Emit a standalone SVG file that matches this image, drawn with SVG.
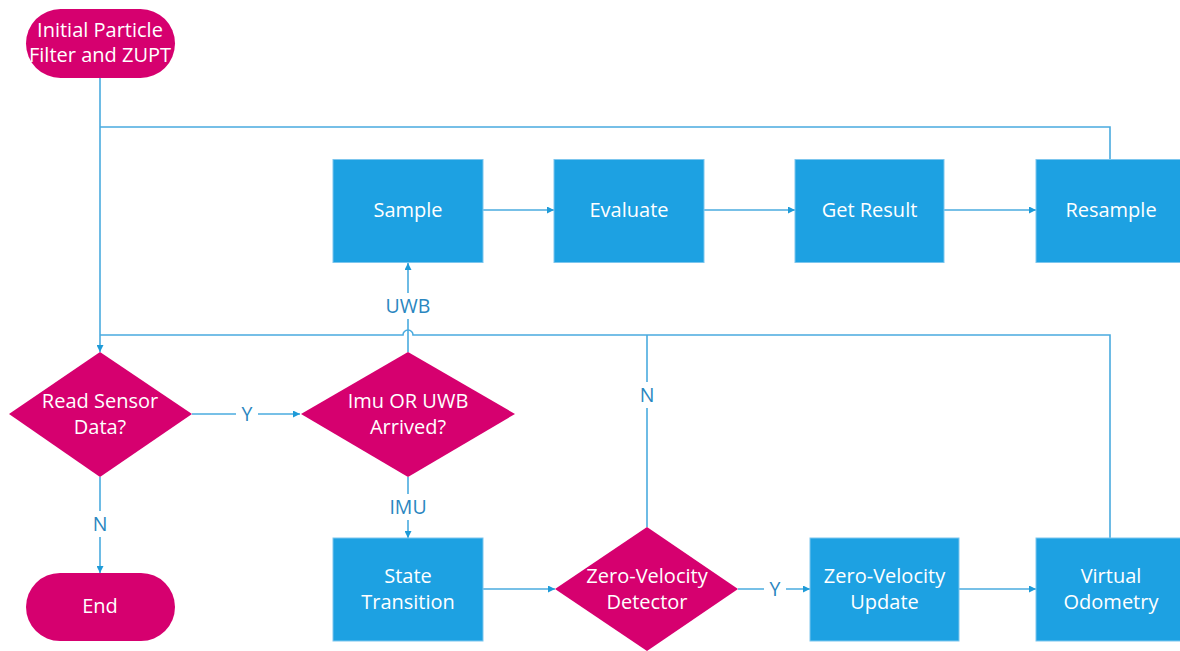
<svg xmlns="http://www.w3.org/2000/svg" width="1180" height="651" viewBox="0 0 1180 651">
<style>
.term{fill:#D6006F}
.dec{fill:#D6006F}
.proc{fill:#1DA1E2;stroke:#7CC6EE;stroke-width:1}
.t{font-family:"Open Sans","Noto Sans",sans-serif;font-size:20px;fill:#FFFFFF;text-anchor:middle}
.lbl{font-family:"Open Sans","Noto Sans",sans-serif;font-size:19.5px;fill:#2A86C0;text-anchor:middle}
.c{fill:none;stroke:#4AABDF;stroke-width:1.6}
.bg{fill:#FFFFFF}
</style>
<defs>
<marker id="ah" viewBox="0 0 10 10" refX="10" refY="5" markerWidth="7" markerHeight="7" markerUnits="userSpaceOnUse" orient="auto">
<path d="M0,0 L10,5 L0,10 z" fill="#1E9BD8"/>
</marker>
</defs>
<g id="connectors">
<path class="c" d="M100,78 V352" marker-end="url(#ah)"/>
<path class="c" d="M100,127 H1110 V159"/>
<path class="c" d="M100,335 H403 A5,5 0 0 1 413,335 H1110 V538"/>
<path class="c" d="M647,527 V335"/>
<path class="c" d="M192,414 H300" marker-end="url(#ah)"/>
<path class="c" d="M408,352 V263" marker-end="url(#ah)"/>
<path class="c" d="M408,477 V538" marker-end="url(#ah)"/>
<path class="c" d="M100,477 V573" marker-end="url(#ah)"/>
<path class="c" d="M483,210 H554" marker-end="url(#ah)"/>
<path class="c" d="M704,210 H795" marker-end="url(#ah)"/>
<path class="c" d="M944,210 H1036" marker-end="url(#ah)"/>
<path class="c" d="M483,589 H555" marker-end="url(#ah)"/>
<path class="c" d="M738,589 H810" marker-end="url(#ah)"/>
<path class="c" d="M959,589 H1036" marker-end="url(#ah)"/>
<rect class="bg" x="236" y="402" width="22" height="24"/>
<text class="lbl" x="247" y="421">Y</text>
<rect class="bg" x="383" y="293" width="50" height="26"/>
<text class="lbl" x="408" y="313">UWB</text>
<rect class="bg" x="385" y="494" width="46" height="26"/>
<text class="lbl" x="408" y="514">IMU</text>
<rect class="bg" x="89" y="511" width="22" height="26"/>
<text class="lbl" x="100" y="531">N</text>
<rect class="bg" x="636" y="382" width="22" height="26"/>
<text class="lbl" x="647" y="402">N</text>
<rect class="bg" x="764" y="577" width="22" height="24"/>
<text class="lbl" x="775" y="596">Y</text>
</g>
<g id="start">
<rect class="term" x="26" y="9" width="149" height="69" rx="34.5"/>
<text class="t" x="100" y="37">Initial Particle</text>
<text class="t" x="100" y="62">Filter and ZUPT</text>
</g>
<g id="read">
<polygon class="dec" points="100,352 192,414 100,477 9,414"/>
<text class="t" x="100" y="408">Read Sensor</text>
<text class="t" x="100" y="434">Data?</text>
</g>
<g id="arrived">
<polygon class="dec" points="408,352 515,414 408,477 301,414"/>
<text class="t" x="408" y="408">Imu OR UWB</text>
<text class="t" x="408" y="434">Arrived?</text>
</g>
<g id="sample">
<rect class="proc" x="333" y="159.5" width="150" height="103"/>
<text class="t" x="408" y="217">Sample</text>
</g>
<g id="evaluate">
<rect class="proc" x="554" y="159.5" width="150" height="103"/>
<text class="t" x="629" y="217">Evaluate</text>
</g>
<g id="getresult">
<rect class="proc" x="795" y="159.5" width="149" height="103"/>
<text class="t" x="869.5" y="217">Get Result</text>
</g>
<g id="resample">
<rect class="proc" x="1036" y="159.5" width="150" height="103"/>
<text class="t" x="1111" y="217">Resample</text>
</g>
<g id="state">
<rect class="proc" x="333" y="538" width="150" height="103"/>
<text class="t" x="408" y="583">State</text>
<text class="t" x="408" y="609">Transition</text>
</g>
<g id="zvd">
<polygon class="dec" points="647,527 738,589 647,651 555,589"/>
<text class="t" x="647" y="583">Zero-Velocity</text>
<text class="t" x="647" y="609">Detector</text>
</g>
<g id="zvu">
<rect class="proc" x="810" y="538" width="149" height="103"/>
<text class="t" x="884.5" y="583">Zero-Velocity</text>
<text class="t" x="884.5" y="609">Update</text>
</g>
<g id="vo">
<rect class="proc" x="1036" y="538" width="150" height="103"/>
<text class="t" x="1111" y="583">Virtual</text>
<text class="t" x="1111" y="609">Odometry</text>
</g>
<g id="end">
<rect class="term" x="26" y="573" width="149" height="68" rx="34"/>
<text class="t" x="100" y="613">End</text>
</g>
</svg>
